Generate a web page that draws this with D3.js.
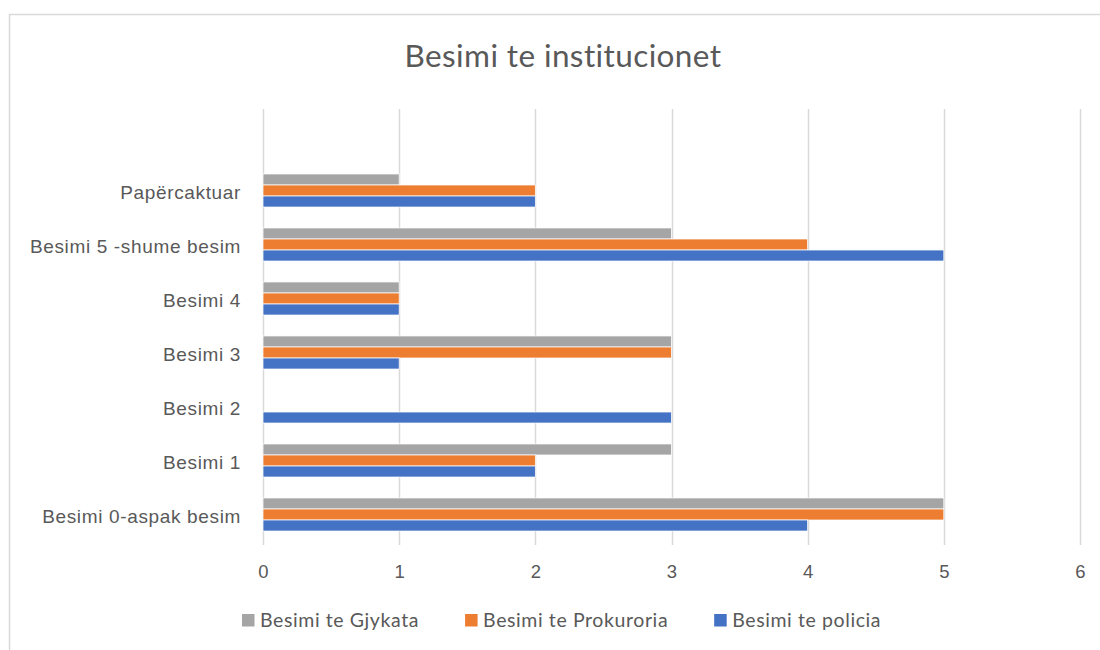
<!DOCTYPE html>
<html>
<head>
<meta charset="utf-8">
<script src="https://cdn.jsdelivr.net/npm/d3@7"></script>
<style>
  body { margin: 0; background: #fff; }
  svg { display: block; font-family: Lato, "Open Sans", sans-serif; }
</style>
</head>
<body>
<svg id="chart" width="1100" height="650"></svg>
<script>
var categories = ['Besimi 0-aspak besim', 'Besimi 1', 'Besimi 2', 'Besimi 3', 'Besimi 4', 'Besimi 5 -shume besim', 'Papërcaktuar'];
var seriesNames = ['Besimi te Gjykata', 'Besimi te Prokuroria', 'Besimi te policia'];
var gjykata = [5, 3, 0, 3, 1, 3, 1];
var prokuroria = [5, 2, 0, 3, 1, 4, 2];
var policia = [4, 2, 3, 1, 1, 5, 2];
var xTicks = [0, 1, 2, 3, 4, 5, 6];
var colors = ['#A5A5A5', '#ED7D31', '#4472C4'];

var values = [gjykata, prokuroria, policia];
var rows = categories.map(function(c, i) {
    return { cat: c, vals: seriesNames.map(function(s, j) { return { name: s, v: values[j][i], color: colors[j] }; }) };
});

var svg = d3.select('#chart'),
    plotLeft = 263, plotRight = 1080,
    plotTop = 109, plotBottom = 545,
    textColor = '#595959';

// chart border (runs off the right and bottom edge)
svg.append('rect')
    .attr('x', 9.5).attr('y', 14.5)
    .attr('width', 1100).attr('height', 650)
    .attr('fill', 'none')
    .attr('stroke', '#D9D9D9')
    .attr('stroke-width', 1.5);

svg.append('text')
    .attr('x', 563).attr('y', 67)
    .attr('text-anchor', 'middle')
    .attr('font-size', '31.5px')
    .attr('letter-spacing', '0.4px')
    .attr('fill', textColor)
    .text('Besimi te institucionet');

var x = d3.scaleLinear().domain([0, 6]).range([plotLeft, plotRight]);

// Excel leaves some empty room above the top group
var step = 54;
var bandsBottom = 541.5;
var y = d3.scaleBand()
    .domain(categories)
    .range([bandsBottom, bandsBottom - categories.length * step])
    .padding(0);

var yInner = d3.scaleBand()
    .domain(seriesNames)
    .range([0, y.bandwidth()])
    .paddingInner(0)
    .paddingOuter(0.95);

// gridlines
svg.append('g').selectAll('line')
    .data(xTicks)
    .join('line')
    .attr('x1', function(d) { return Math.round(x(d)) + 0.5; })
    .attr('x2', function(d) { return Math.round(x(d)) + 0.5; })
    .attr('y1', plotTop).attr('y2', plotBottom)
    .attr('stroke', '#D9D9D9')
    .attr('stroke-width', 1.5);

var groups = svg.append('g').selectAll('g')
    .data(rows)
    .join('g')
    .attr('transform', function(d) { return 'translate(0,' + y(d.cat) + ')'; });

groups.selectAll('rect')
    .data(function(d) { return d.vals; })
    .join('rect')
    .attr('x', x(0))
    .attr('y', function(d) { return yInner(d.name); })
    .attr('width', function(d) { return x(d.v) - x(0); })
    .attr('height', yInner.bandwidth())
    .attr('fill', function(d) { return d.color; })
    .attr('stroke', '#fff')
    .attr('stroke-width', function(d) { return d.v > 0 ? 0.75 : 0; });

// x axis labels
var xAxis = svg.append('g')
    .attr('transform', 'translate(0,' + plotBottom + ')')
    .call(d3.axisBottom(x).tickValues(xTicks).tickSize(0).tickPadding(20).tickFormat(d3.format('d')));
xAxis.select('.domain').remove();
xAxis.selectAll('text').attr('font-size', '18.5px').attr('fill', textColor).attr('font-family', null);

// category labels
var yAxis = svg.append('g')
    .attr('transform', 'translate(' + plotLeft + ',0)')
    .call(d3.axisLeft(y).tickSize(0).tickPadding(22));
yAxis.select('.domain').remove();
yAxis.selectAll('text')
    .attr('font-size', '19px')
    .attr('letter-spacing', '0.65px')
    .attr('fill', textColor)
    .attr('font-family', null)
    .attr('dy', '0.45em');

// legend
var legend = svg.append('g').attr('transform', 'translate(0,627)');
var lx = 242;
seriesNames.forEach(function(name, i) {
    var item = legend.append('g').attr('transform', 'translate(' + lx + ',0)');
    item.append('rect')
        .attr('x', 0).attr('y', -13)
        .attr('width', 12.5).attr('height', 12.5)
        .attr('fill', colors[i]);
    var t = item.append('text')
        .attr('x', 18).attr('y', 0)
        .attr('font-size', '19.5px')
        .attr('letter-spacing', '0.6px')
        .attr('fill', textColor)
        .text(name);
    lx += 18 + t.node().getComputedTextLength() + 46;
});
</script>
</body>
</html>
